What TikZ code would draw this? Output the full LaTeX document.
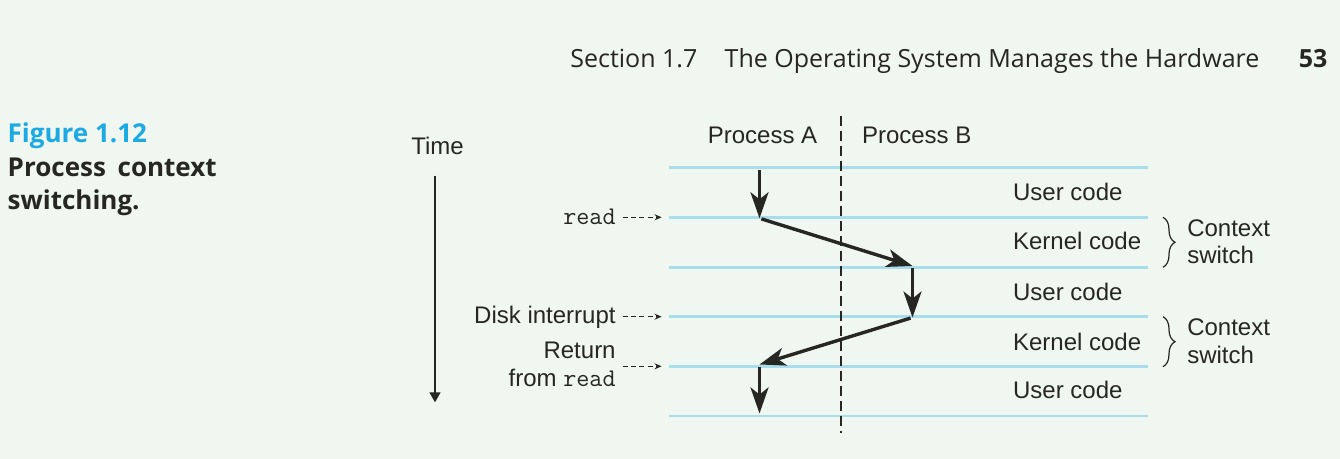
\documentclass[tikz,border=0pt]{standalone}
\usepackage{fontspec}
\setmainfont{Liberation Sans}
\newfontfamily\headfont{Open Sans}
\usetikzlibrary{arrows.meta,decorations.pathreplacing}

\definecolor{pagebg}{RGB}{240,246,240}
\definecolor{ink}{RGB}{38,38,35}
\definecolor{rule}{RGB}{168,222,236}
\definecolor{capblue}{RGB}{28,170,226}

\newcommand{\cmd}[1]{{\ttfamily\fontsize{12.7}{13}\selectfont #1}}

\begin{document}
\begin{tikzpicture}[x=0.5pt,y=-0.5pt,
  lbl/.style={font=\fontsize{12}{13.65}\selectfont,text=ink,inner sep=0pt},
  head/.style={font=\headfont\fontsize{12.5}{15}\selectfont,text=ink,inner sep=0pt,anchor=base west},
  timeline/.style={draw=rule,line width=1.35pt},
  flow/.style={draw=ink,line width=1.7pt,-{Stealth[length=13pt,width=9pt,inset=3.5pt]}},
  ptr/.style={draw=ink,line width=0.6pt,dash pattern=on 2.5pt off 1.7pt,-{Stealth[length=3.5pt,width=3pt]}},
  cbrace/.style={draw=ink,line width=0.6pt,decorate,decoration={brace,amplitude=6pt}}]
\fill[pagebg] (0,0) rectangle (1340,459);

% running head and caption
\node[head] (sec) at (570,67.3) {Section 1.7};
\node[head] (title) at (724.3,67.3) {The Operating System Manages the Hardware};
\node[head,anchor=base east] (page) at (1327.7,67.3) {\bfseries 53};
\node[head,font=\headfont\bfseries\fontsize{13}{15}\selectfont,text=capblue] (fig) at (7.3,142.3) {Figure 1.12};
\node[head,font=\headfont\bfseries\fontsize{13}{15}\selectfont] (cap1) at (7.3,176.7) {Process\hspace{0.45em}context};
\node[head,font=\headfont\bfseries\fontsize{13}{15}\selectfont] (cap2) at (7.3,210) {switching.};

% time lines
\draw[timeline] (669,167.7) coordinate (t0) -- (1148,167.7);
\draw[timeline] (669,217.3) coordinate (t1) -- (1148,217.3);
\draw[timeline] (669,267.3) coordinate (t2) -- (1148,267.3);
\draw[timeline] (669,316.7) coordinate (t3) -- (1148,316.7);
\draw[timeline] (669,366.3) coordinate (t4) -- (1148,366.3);
\draw[timeline] (669,416) coordinate (t5) -- (1148,416);
\draw[draw=ink,line width=0.6pt,dash pattern=on 5pt off 2.5pt] (841,116) -- (841,433);

\node[lbl,anchor=base] (procA) at (762.5,143.3) {Process A};
\node[lbl,anchor=base] (procB) at (916.7,143.3) {Process B};

% time axis
\node[lbl,anchor=base] (time) at (437.5,155) {Time};
\coordinate (tend) at (435,402.3);
\draw[draw=ink,line width=0.8pt,shorten <=10pt,-{Triangle[length=5pt,width=5.5pt]}] (time.south -| tend) -- (tend);

% control flow
\coordinate (A0) at (759.5,167.7);
\coordinate (A1) at (759.5,218.3);
\coordinate (B2) at (912.5,266);
\coordinate (B3) at (912.5,317.5);
\coordinate (A4) at (759.5,364.5);
\coordinate (A5) at (759.5,413.5);
\draw[flow,shorten <=1.2pt] (A0) -- (A1);
\draw[flow,shorten <=1pt] (A1) -- (B2);
\draw[flow,shorten <=1.2pt] (B2) -- (B3);
\draw[flow,shorten <=1pt] (B3) -- (A4);
\draw[flow,shorten <=1.2pt] (A4) -- (A5);

% events on the left
\node[lbl,anchor=base east] (read) at (616,224.3) {\cmd{read}};
\node[lbl,anchor=base east] (disk) at (616,324) {Disk interrupt};
\node[lbl,anchor=east,align=right] (ret) at (616,364.5) {Return\\from \cmd{read}};
\draw[ptr,shorten <=3.3pt,shorten >=3.7pt] (read.east |- t1) -- (t1);
\draw[ptr,shorten <=3.3pt,shorten >=3.7pt] (disk.east |- t3) -- (t3);
\draw[ptr,shorten <=3.3pt,shorten >=3.7pt] (ret.east |- t4) -- (t4);

% code kinds on the right
\node[lbl,anchor=base west] (u1) at (1012.7,200.3) {User code};
\node[lbl,anchor=base west] (k1) at (1012.7,249.8) {Kernel code};
\node[lbl,anchor=base west] (u2) at (1012.7,300.5) {User code};
\node[lbl,anchor=base west] (k2) at (1012.7,350.3) {Kernel code};
\node[lbl,anchor=base west] (u3) at (1012.7,399) {User code};

\draw[cbrace] (1163,217.3) -- (1163,267.3) node[lbl,midway,anchor=west,align=left,xshift=11.85pt,yshift=0.3pt] (cs1) {Context\\switch};
\draw[cbrace] (1163,316.7) -- (1163,366.7) node[lbl,midway,anchor=west,align=left,xshift=11.85pt,yshift=0.3pt] (cs2) {Context\\switch};
\end{tikzpicture}
\end{document}
